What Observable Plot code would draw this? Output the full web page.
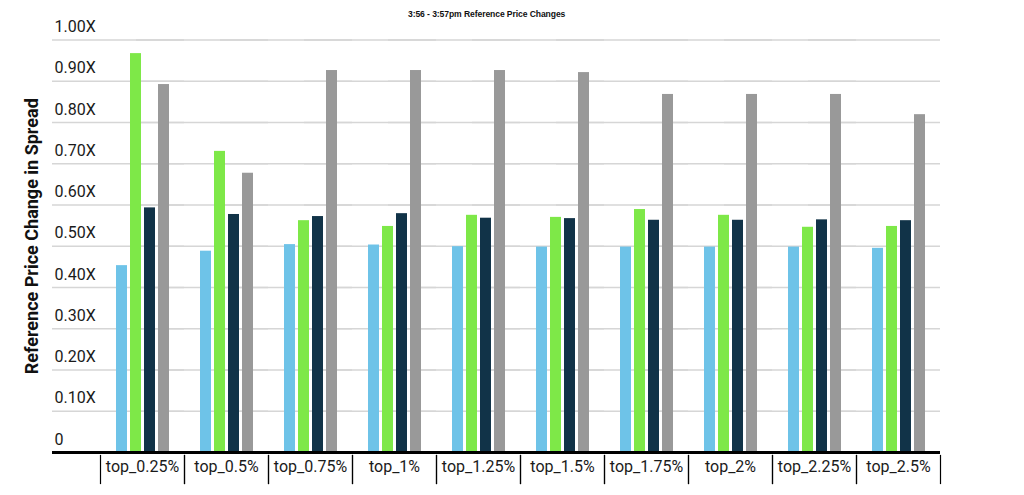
<!DOCTYPE html>
<html><head><meta charset="utf-8">
<script src="https://cdn.jsdelivr.net/npm/d3@7"></script>
<script src="https://cdn.jsdelivr.net/npm/@observablehq/plot@0.6"></script>
<style>
body{margin:0;background:#fff;}
#title{height:20px;position:relative;font:bold 8.6px "Liberation Sans",Arial,sans-serif;color:#111;}
#title span{position:absolute;left:408px;top:9px;letter-spacing:-0.1px;}
</style></head><body>
<div id="title"><span>3:56 - 3:57pm Reference Price Changes</span></div>
<div id="chart"></div>
<script>
const categories = ["top_0.25%","top_0.5%","top_0.75%","top_1%","top_1.25%","top_1.5%","top_1.75%","top_2%","top_2.25%","top_2.5%"];
const seriesNames = ["Series 1","Series 2","Series 3","Series 4"];
const series1 = [0.453,0.488,0.504,0.503,0.499,0.498,0.498,0.498,0.498,0.495];
const series2 = [0.967,0.730,0.562,0.548,0.575,0.570,0.589,0.575,0.546,0.548];
const series3 = [0.593,0.577,0.572,0.579,0.568,0.567,0.563,0.563,0.564,0.562];
const series4 = [0.892,0.677,0.926,0.926,0.926,0.921,0.868,0.868,0.868,0.819];
const yTicks = [0,0.1,0.2,0.3,0.4,0.5,0.6,0.7,0.8,0.9,1.0];
const colors = ["#6ec3e8","#7ee848","#113348","#999999"];

const allSeries = [series1,series2,series3,series4];
const data = categories.flatMap((c,i)=>seriesNames.map((s,j)=>({category:c, series:s, value:allSeries[j][i]})));
const fmt = d => d === 0 ? "0" : d.toFixed(2) + "X";

const chart = Plot.plot({
  width:1024, height:475, marginTop:19.5, marginBottom:43, marginLeft:98, marginRight:83,
  style:{fontFamily:"Roboto", fontSize:"16px", color:"#1a1a1a", background:"#fff", overflow:"visible"},
  fx:{domain:categories, padding:0, axis:null, label:null},
  x:{domain:seriesNames, paddingInner:0.25, paddingOuter:1.1, axis:null},
  y:{domain:[0,1], axis:null},
  color:{domain:seriesNames, range:colors},
  marks:[
    Plot.ruleY(yTicks.filter(t=>t>0), {stroke:"#d6d6d6", strokeWidth:1.5, insetLeft:-48}),
    Plot.barY(data, {fx:"category", x:"series", y:"value", fill:"series"}),
    Plot.ruleY([0], {stroke:"#000", strokeWidth:3, insetLeft:-48}),
    Plot.frame({anchor:"left", insetTop:415.5, insetBottom:-31, stroke:"#000", strokeWidth:1.2}),
    Plot.frame({anchor:"right", insetTop:415.5, insetBottom:-31, stroke:"#000", strokeWidth:1.2}),
    Plot.axisFx({anchor:"bottom", tickSize:0, tickPadding:8, label:null, fontSize:16}),
    Plot.text(yTicks, {fx:()=>categories[0], y:d=>d, text:fmt, frameAnchor:"left", textAnchor:"start", dx:-46, dy:-13, fontSize:16, fill:"#1a1a1a"}),
    Plot.text(["Reference Price Change in Spread"], {fx:()=>categories[0], text:d=>d, frameAnchor:"left", textAnchor:"middle", rotate:-90, dx:-68, dy:-10, fontSize:18, fontWeight:"bold", fill:"#111"})
  ]
});
document.getElementById("chart").append(chart);
</script>
</body></html>
